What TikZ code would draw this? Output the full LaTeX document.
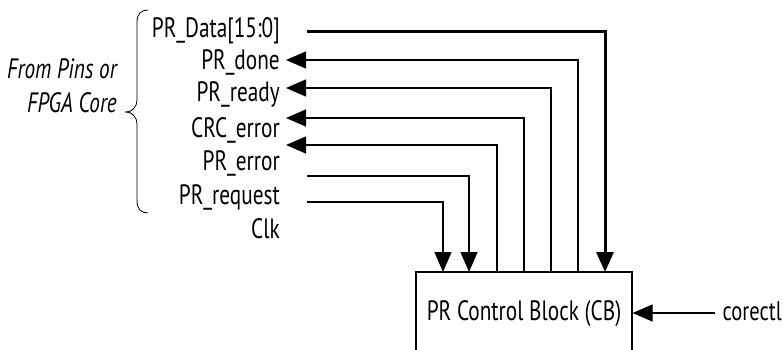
\documentclass[tikz,border=0pt]{standalone}
\usepackage{fontspec}
\setmainfont{PT Sans}[FakeStretch=0.76]
\usetikzlibrary{arrows.meta}
\begin{document}
\begin{tikzpicture}[x=1pt,y=-1pt,
  lbl/.style={anchor=base east,inner sep=0pt,font=\fontsize{28}{32}\selectfont},
  sig/.style={line width=1.2pt},
  bus/.style={line width=3pt},
  tip/.style={-{Triangle[length=20pt,width=17pt]}},
  box/.style={draw,line width=1.2pt,minimum width=216pt,minimum height=130pt,inner sep=0pt}]
\useasboundingbox (0,0) rectangle (783,350);
\clip (0,0) rectangle (783,350);
% labels
\node[lbl] (ldata) at (280,38) {PR\_Data[15:0]};
\node[lbl] (ldone) at (280,70) {PR\_done};
\node[lbl] (lready) at (280,102) {PR\_ready};
\node[lbl] (lcrc) at (280,137) {CRC\_error};
\node[lbl] (lerr) at (280,170) {PR\_error};
\node[lbl] (lreq) at (280,204) {PR\_request};
\node[lbl] (lclk) at (280,238) {Clk};
\node[lbl,align=right,font=\fontsize{28}{33}\itshape] (lfrom) at (117,112) {From Pins or\\FPGA Core};
% brace
\draw[line width=0.8pt] (148,10) .. controls (141,10) and (137,14) .. (137,22) -- (137,100)
  .. controls (137,107) and (132,112) .. (126,112)
  .. controls (132,112) and (137,117) .. (137,124) -- (137,201)
  .. controls (137,209) and (141,213) .. (148,213);
% block
\node[box] (cb) at (524,337) {};
\node[font=\fontsize{28}{32}\selectfont,anchor=base,inner sep=0pt] (cbt) at (524,320) {PR Control Block (CB)};
% coordinates
\coordinate (sdata) at (307,32);
\coordinate (sdone) at (286,60);
\coordinate (sready) at (286,88);
\coordinate (scrc) at (286,118);
\coordinate (serr) at (286,145);
\coordinate (sreq) at (307,176);
\coordinate (sclk) at (307,202);
\coordinate (tdata) at (605,272);
\coordinate (tdone) at (578,272);
\coordinate (tready) at (551,272);
\coordinate (tcrc) at (524,272);
\coordinate (terr) at (497,272);
\coordinate (treq) at (469,272);
\coordinate (tclk) at (443,272);
\draw[bus,tip] (sdata) -| (tdata);
\draw[sig,tip] (tdone) |- (sdone);
\draw[sig,tip] (tready) |- (sready);
\draw[sig,tip] (tcrc) |- (scrc);
\draw[sig,tip] (terr) |- (serr);
\draw[sig,tip] (sreq) -| (treq);
\draw[sig,tip] (sclk) -| (tclk);
% corectl
\node[font=\fontsize{27}{32}\selectfont,anchor=base east,inner sep=0pt] (corectl) at (782,320) {corectl};
\coordinate (cstart) at ([xshift=-7pt]corectl.west |- 0,313);
\draw[sig,tip] (cstart) -- (cb.east |- cstart);
\end{tikzpicture}
\end{document}
